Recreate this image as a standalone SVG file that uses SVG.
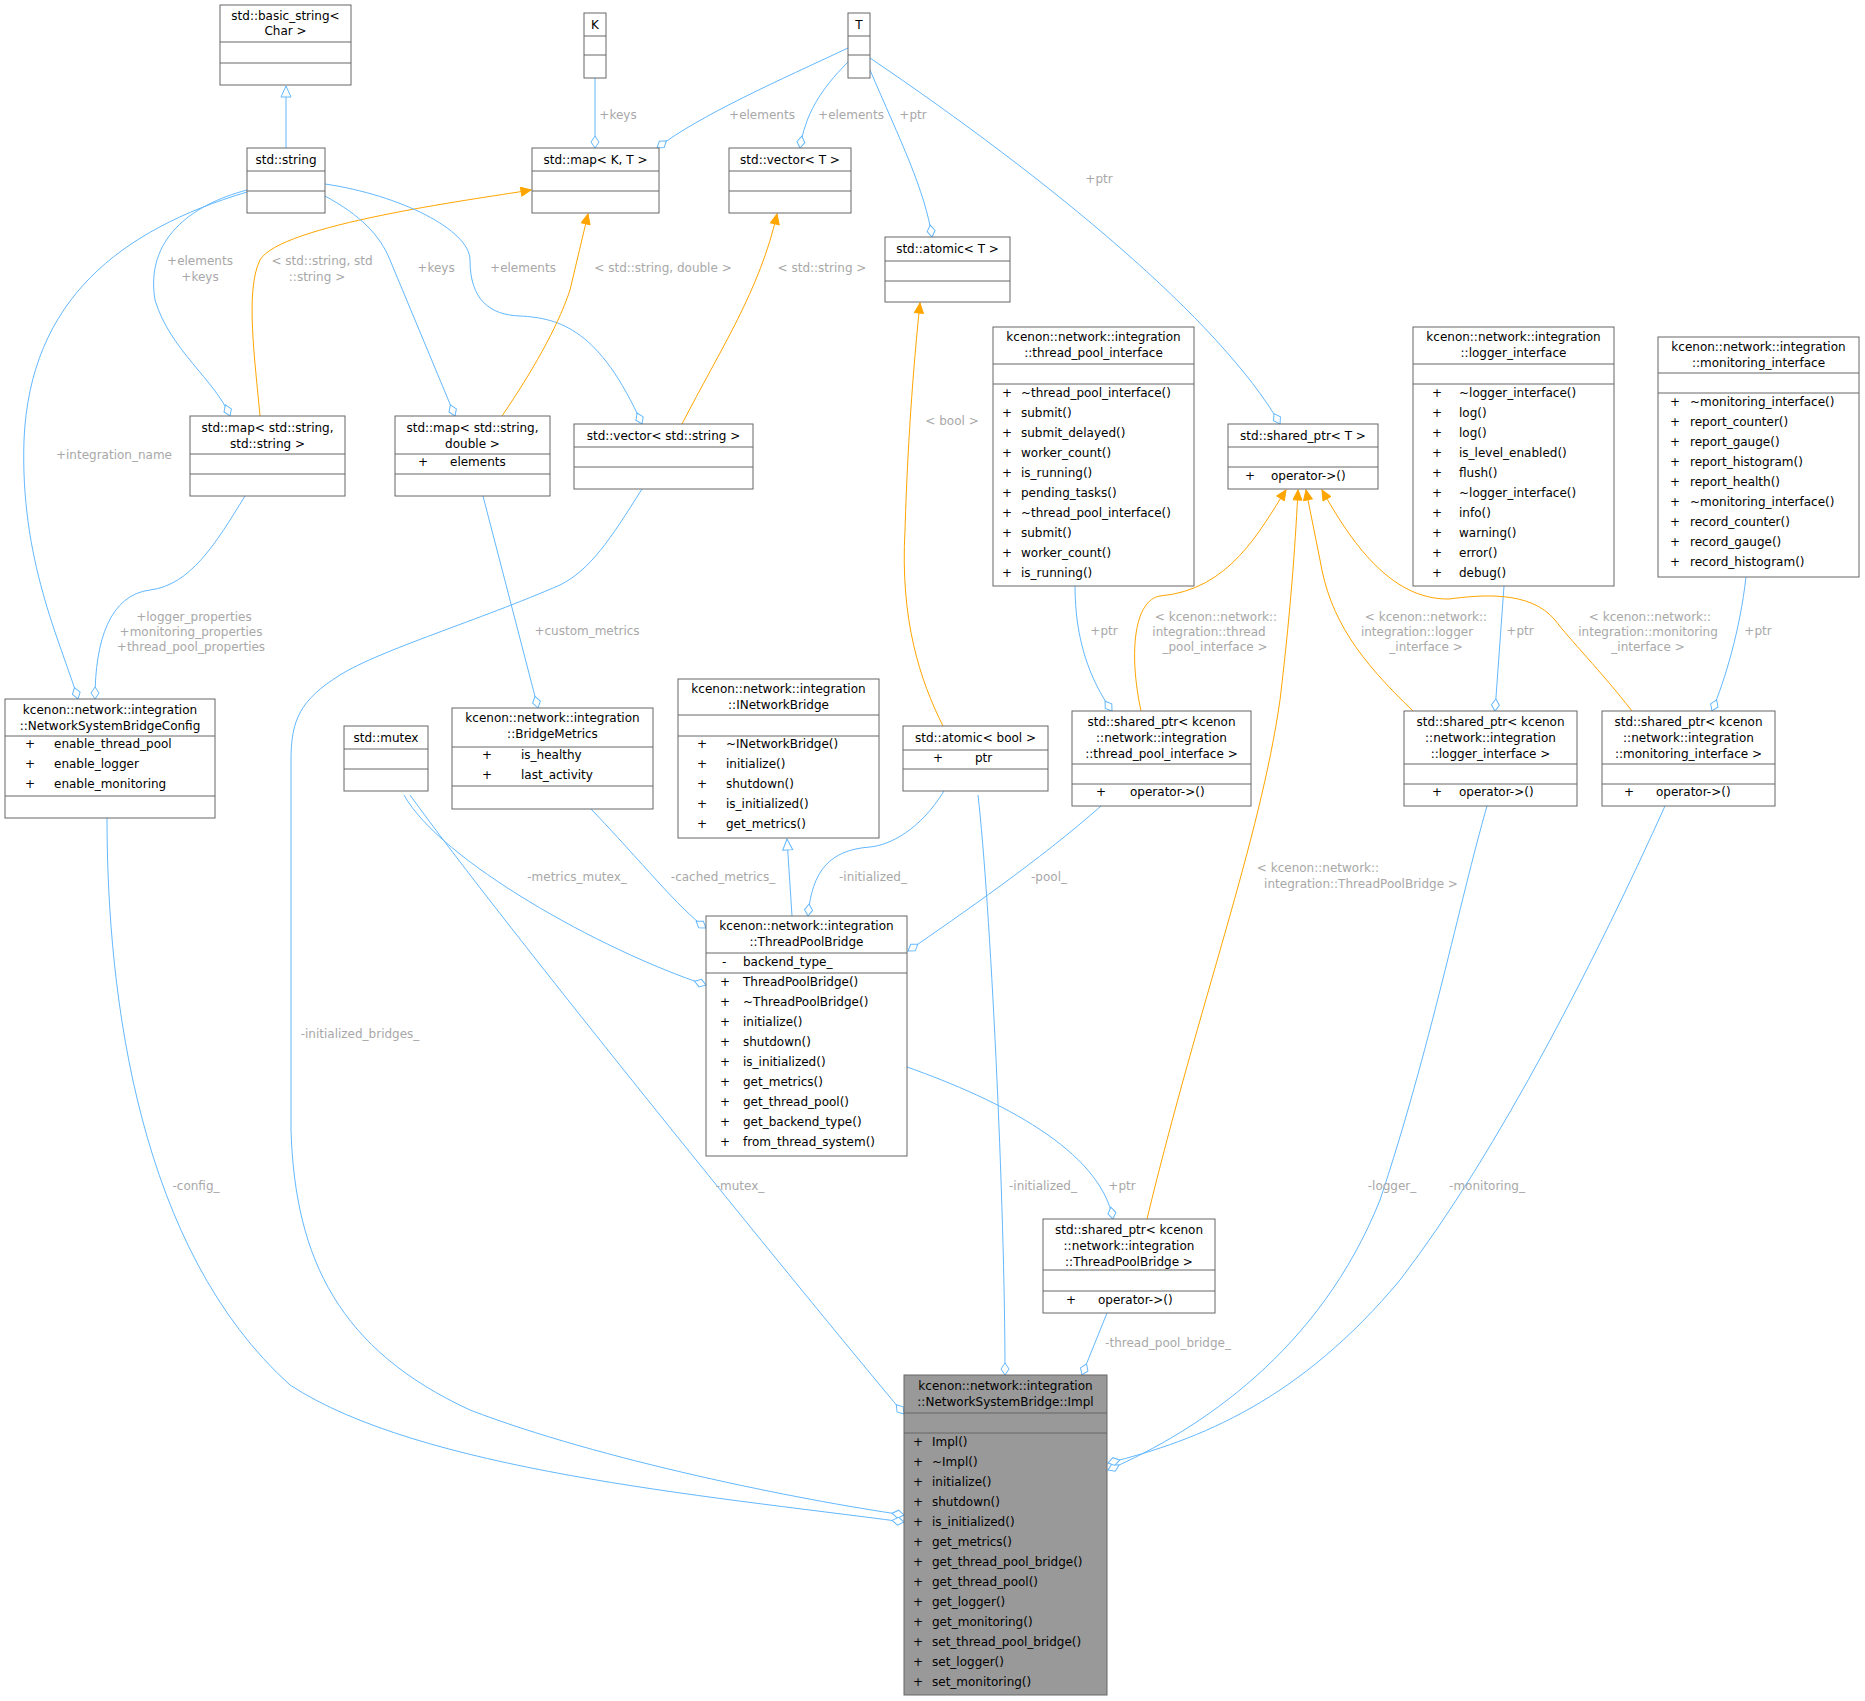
<svg xmlns="http://www.w3.org/2000/svg" width="1865" height="1701" viewBox="0 0 1865 1701">
<style>
text{font-family:"DejaVu Sans","Liberation Sans",sans-serif;font-size:12px;fill:#000}
.c{text-anchor:middle}
.l{fill:#a8a8a8;text-anchor:middle}
rect{fill:#fff;stroke:#666;stroke-width:1}
.imp rect{fill:#999}
line.s{stroke:#666;stroke-width:1}
.e path{fill:none;stroke:#63b8ff;stroke-width:1}
.e path.o{stroke:#ffa500}
</style>
<defs>
<marker id="dm" viewBox="-1 -5 14 10" refX="12" refY="0" markerWidth="14" markerHeight="10" markerUnits="userSpaceOnUse" orient="auto"><path d="M0,0 L6,-4 L12,0 L6,4 Z" fill="#fff" stroke="#63b8ff"/></marker>
<marker id="ar" viewBox="-1 -5 12 10" refX="10" refY="0" markerWidth="12" markerHeight="10" markerUnits="userSpaceOnUse" orient="auto"><path d="M0,-4.5 L10,0 L0,4.5 Z" fill="#ffa500" stroke="#ffa500"/></marker>
<marker id="ih" viewBox="-1 -6 13 12" refX="11" refY="0" markerWidth="13" markerHeight="12" markerUnits="userSpaceOnUse" orient="auto"><path d="M0,-5 L11,0 L0,5 Z" fill="#fff" stroke="#63b8ff"/></marker>
</defs>
<g class="e" id="edges">
<path d="M286,148 L286,86" marker-end="url(#ih)"/>
<path d="M595,78 L595,148" marker-end="url(#dm)"/>
<path d="M848,48 C780,80 700,115 657,148" marker-end="url(#dm)"/>
<path d="M848,62 C820,90 805,115 800,148" marker-end="url(#dm)"/>
<path d="M870,70 C900,140 925,190 932,237" marker-end="url(#dm)"/>
<path d="M870,58 C1050,180 1220,320 1280,424" marker-end="url(#dm)"/>
<path d="M247,190 C190,205 145,240 155,300 C170,350 215,380 230,416" marker-end="url(#dm)"/>
<path d="M247,192 C120,230 30,300 24,440 C20,560 60,640 78,699" marker-end="url(#dm)"/>
<path class="o" d="M260,416 C255,360 245,290 260,260 C280,225 470,200 531,190" marker-end="url(#ar)"/>
<path d="M325,196 C360,215 380,235 390,260 L455,416" marker-end="url(#dm)"/>
<path d="M325,184 C400,195 470,230 470,260 C470,300 490,315 520,316 C560,318 600,330 642,424" marker-end="url(#dm)"/>
<path class="o" d="M502,416 C540,360 560,320 570,290 L588,214" marker-end="url(#ar)"/>
<path class="o" d="M682,424 C720,350 760,290 777,214" marker-end="url(#ar)"/>
<path class="o" d="M943,726 C920,680 900,620 905,530 C908,430 915,350 920,303" marker-end="url(#ar)"/>
<path d="M1075,586 C1075,640 1090,680 1112,711" marker-end="url(#dm)"/>
<path d="M1504,586 L1495,711" marker-end="url(#dm)"/>
<path d="M1746,577 C1740,630 1725,680 1712,711" marker-end="url(#dm)"/>
<path class="o" d="M1141,711 C1128,650 1135,600 1160,596 C1230,590 1260,530 1286,490" marker-end="url(#ar)"/>
<path class="o" d="M1413,711 C1360,660 1330,620 1320,560 L1306,490" marker-end="url(#ar)"/>
<path class="o" d="M1632,711 C1600,670 1570,640 1555,620 C1530,590 1480,595 1449,599 C1390,600 1350,540 1322,490" marker-end="url(#ar)"/>
<path class="o" d="M1147,1219 C1200,1000 1260,840 1280,700 C1292,600 1296,530 1298,490" marker-end="url(#ar)"/>
<path d="M245,496 C215,545 190,585 150,590 C110,595 95,640 95,699" marker-end="url(#dm)"/>
<path d="M483,496 L538,708" marker-end="url(#dm)"/>
<path d="M642,489 C610,540 590,570 560,585 C480,620 380,650 340,675 C300,700 291,720 291,760 L291,1130 C295,1260 340,1350 470,1410 C600,1460 800,1500 904,1515" marker-end="url(#dm)"/>
<path d="M107,818 C107,1000 140,1250 290,1385 C420,1470 700,1495 904,1522" marker-end="url(#dm)"/>
<path d="M404,795 C440,860 600,950 706,985" marker-end="url(#dm)"/>
<path d="M410,795 C500,920 800,1290 904,1414" marker-end="url(#dm)"/>
<path d="M591,809 C640,860 680,910 706,928" marker-end="url(#dm)"/>
<path d="M792,916 L787,839" marker-end="url(#ih)"/>
<path d="M944,791 C920,830 890,845 870,847 C830,850 812,870 808,916" marker-end="url(#dm)"/>
<path d="M1101,806 C1040,860 960,915 908,951" marker-end="url(#dm)"/>
<path d="M978,795 C990,900 1005,1200 1005,1375" marker-end="url(#dm)"/>
<path d="M907,1067 C1000,1100 1100,1150 1113,1219" marker-end="url(#dm)"/>
<path d="M1107,1313 L1082,1375" marker-end="url(#dm)"/>
<path d="M1487,806 C1460,900 1430,1050 1380,1200 C1320,1350 1200,1430 1108,1470" marker-end="url(#dm)"/>
<path d="M1665,806 C1600,950 1500,1150 1400,1280 C1300,1400 1200,1440 1108,1463" marker-end="url(#dm)"/>
<text class="l" x="618" y="119">+keys</text>
<text class="l" x="762" y="119">+elements</text>
<text class="l" x="851" y="119">+elements</text>
<text class="l" x="913" y="119">+ptr</text>
<text class="l" x="1099" y="183">+ptr</text>
<text class="l" x="200" y="265">+elements</text>
<text class="l" x="200" y="281">+keys</text>
<text class="l" x="114" y="459">+integration_name</text>
<text class="l" x="322" y="265">&lt; std::string, std</text>
<text class="l" x="317" y="281">::string &gt;</text>
<text class="l" x="436" y="272">+keys</text>
<text class="l" x="523" y="272">+elements</text>
<text class="l" x="663" y="272">&lt; std::string, double &gt;</text>
<text class="l" x="822" y="272">&lt; std::string &gt;</text>
<text class="l" x="952" y="425">&lt; bool &gt;</text>
<text class="l" x="1104" y="635">+ptr</text>
<text class="l" x="1520" y="635">+ptr</text>
<text class="l" x="1758" y="635">+ptr</text>
<text class="l" x="1216" y="621">&lt; kcenon::network::</text>
<text class="l" x="1209" y="636">integration::thread</text>
<text class="l" x="1215" y="651">_pool_interface &gt;</text>
<text class="l" x="1426" y="621">&lt; kcenon::network::</text>
<text class="l" x="1417" y="636">integration::logger</text>
<text class="l" x="1426" y="651">_interface &gt;</text>
<text class="l" x="1650" y="621">&lt; kcenon::network::</text>
<text class="l" x="1648" y="636">integration::monitoring</text>
<text class="l" x="1648" y="651">_interface &gt;</text>
<text class="l" x="194" y="621">+logger_properties</text>
<text class="l" x="191" y="636">+monitoring_properties</text>
<text class="l" x="191" y="651">+thread_pool_properties</text>
<text class="l" x="587" y="635">+custom_metrics</text>
<text class="l" x="1318" y="872">&lt; kcenon::network::</text>
<text class="l" x="1361" y="888">integration::ThreadPoolBridge &gt;</text>
<text class="l" x="360" y="1038">-initialized_bridges_</text>
<text class="l" x="196" y="1190">-config_</text>
<text class="l" x="577" y="881">-metrics_mutex_</text>
<text class="l" x="740" y="1190">-mutex_</text>
<text class="l" x="723" y="881">-cached_metrics_</text>
<text class="l" x="873" y="881">-initialized_</text>
<text class="l" x="1049" y="881">-pool_</text>
<text class="l" x="1043" y="1190">-initialized_</text>
<text class="l" x="1122" y="1190">+ptr</text>
<text class="l" x="1168" y="1347">-thread_pool_bridge_</text>
<text class="l" x="1392" y="1190">-logger_</text>
<text class="l" x="1487" y="1190">-monitoring_</text>
</g>
<g id="n_basic"><rect x="220" y="5" width="131" height="80"/><line class="s" x1="220" y1="42" x2="351" y2="42"/><line class="s" x1="220" y1="63" x2="351" y2="63"/><text class="c" x="285.5" y="20">std::basic_string&lt;</text><text class="c" x="285.5" y="35">Char &gt;</text></g>
<g id="n_K"><rect x="584" y="13" width="22" height="65"/><line class="s" x1="584" y1="36" x2="606" y2="36"/><line class="s" x1="584" y1="55" x2="606" y2="55"/><text class="c" x="595" y="29">K</text></g>
<g id="n_T"><rect x="848" y="13" width="22" height="65"/><line class="s" x1="848" y1="36" x2="870" y2="36"/><line class="s" x1="848" y1="55" x2="870" y2="55"/><text class="c" x="859" y="29">T</text></g>
<g id="n_string"><rect x="247" y="148" width="78" height="65"/><line class="s" x1="247" y1="171" x2="325" y2="171"/><line class="s" x1="247" y1="191" x2="325" y2="191"/><text class="c" x="286" y="164">std::string</text></g>
<g id="n_mapKT"><rect x="532" y="148" width="127" height="65"/><line class="s" x1="532" y1="171" x2="659" y2="171"/><line class="s" x1="532" y1="191" x2="659" y2="191"/><text class="c" x="595.5" y="164">std::map&lt; K, T &gt;</text></g>
<g id="n_vecT"><rect x="729" y="148" width="122" height="65"/><line class="s" x1="729" y1="171" x2="851" y2="171"/><line class="s" x1="729" y1="191" x2="851" y2="191"/><text class="c" x="790" y="164">std::vector&lt; T &gt;</text></g>
<g id="n_atomT"><rect x="885" y="237" width="125" height="65"/><line class="s" x1="885" y1="261" x2="1010" y2="261"/><line class="s" x1="885" y1="281" x2="1010" y2="281"/><text class="c" x="947.5" y="253">std::atomic&lt; T &gt;</text></g>
<g id="n_mapss"><rect x="190" y="416" width="155" height="80"/><line class="s" x1="190" y1="454" x2="345" y2="454"/><line class="s" x1="190" y1="474" x2="345" y2="474"/><text class="c" x="267.5" y="432">std::map&lt; std::string,</text><text class="c" x="267.5" y="448">std::string &gt;</text></g>
<g id="n_mapsd"><rect x="395" y="416" width="155" height="80"/><line class="s" x1="395" y1="454" x2="550" y2="454"/><line class="s" x1="395" y1="474" x2="550" y2="474"/><text class="c" x="472.5" y="432">std::map&lt; std::string,</text><text class="c" x="472.5" y="448">double &gt;</text><text x="418" y="466">+</text><text x="450" y="466">elements</text></g>
<g id="n_vecs"><rect x="574" y="424" width="179" height="65"/><line class="s" x1="574" y1="447" x2="753" y2="447"/><line class="s" x1="574" y1="467" x2="753" y2="467"/><text class="c" x="663.5" y="440">std::vector&lt; std::string &gt;</text></g>
<g id="n_config"><rect x="5" y="699" width="210" height="119"/><line class="s" x1="5" y1="736" x2="215" y2="736"/><line class="s" x1="5" y1="796" x2="215" y2="796"/><text class="c" x="110" y="714">kcenon::network::integration</text><text class="c" x="110" y="730">::NetworkSystemBridgeConfig</text><text x="25" y="748">+</text><text x="54" y="748">enable_thread_pool</text><text x="25" y="768">+</text><text x="54" y="768">enable_logger</text><text x="25" y="788">+</text><text x="54" y="788">enable_monitoring</text></g>
<g id="n_mutex"><rect x="344" y="726" width="84" height="65"/><line class="s" x1="344" y1="749" x2="428" y2="749"/><line class="s" x1="344" y1="769" x2="428" y2="769"/><text class="c" x="386" y="742">std::mutex</text></g>
<g id="n_metrics"><rect x="452" y="708" width="201" height="101"/><line class="s" x1="452" y1="747" x2="653" y2="747"/><line class="s" x1="452" y1="786" x2="653" y2="786"/><text class="c" x="552.5" y="722">kcenon::network::integration</text><text class="c" x="552.5" y="738">::BridgeMetrics</text><text x="482" y="759">+</text><text x="521" y="759">is_healthy</text><text x="482" y="779">+</text><text x="521" y="779">last_activity</text></g>
<g id="n_inb"><rect x="678" y="679" width="201" height="159"/><line class="s" x1="678" y1="715" x2="879" y2="715"/><line class="s" x1="678" y1="736" x2="879" y2="736"/><text class="c" x="778.5" y="693">kcenon::network::integration</text><text class="c" x="778.5" y="709">::INetworkBridge</text><text x="697" y="748">+</text><text x="726" y="748">~INetworkBridge()</text><text x="697" y="768">+</text><text x="726" y="768">initialize()</text><text x="697" y="788">+</text><text x="726" y="788">shutdown()</text><text x="697" y="808">+</text><text x="726" y="808">is_initialized()</text><text x="697" y="828">+</text><text x="726" y="828">get_metrics()</text></g>
<g id="n_atomb"><rect x="903" y="726" width="145" height="65"/><line class="s" x1="903" y1="750" x2="1048" y2="750"/><line class="s" x1="903" y1="769" x2="1048" y2="769"/><text class="c" x="975.5" y="742">std::atomic&lt; bool &gt;</text><text x="933" y="762">+</text><text x="975" y="762">ptr</text></g>
<g id="n_tpi"><rect x="993" y="327" width="201" height="259"/><line class="s" x1="993" y1="364" x2="1194" y2="364"/><line class="s" x1="993" y1="384" x2="1194" y2="384"/><text class="c" x="1093.5" y="341">kcenon::network::integration</text><text class="c" x="1093.5" y="357">::thread_pool_interface</text>
<text x="1002" y="397">+</text><text x="1021" y="397">~thread_pool_interface()</text>
<text x="1002" y="417">+</text><text x="1021" y="417">submit()</text>
<text x="1002" y="437">+</text><text x="1021" y="437">submit_delayed()</text>
<text x="1002" y="457">+</text><text x="1021" y="457">worker_count()</text>
<text x="1002" y="477">+</text><text x="1021" y="477">is_running()</text>
<text x="1002" y="497">+</text><text x="1021" y="497">pending_tasks()</text>
<text x="1002" y="517">+</text><text x="1021" y="517">~thread_pool_interface()</text>
<text x="1002" y="537">+</text><text x="1021" y="537">submit()</text>
<text x="1002" y="557">+</text><text x="1021" y="557">worker_count()</text>
<text x="1002" y="577">+</text><text x="1021" y="577">is_running()</text></g>
<g id="n_spT"><rect x="1228" y="424" width="150" height="65"/><line class="s" x1="1228" y1="447" x2="1378" y2="447"/><line class="s" x1="1228" y1="467" x2="1378" y2="467"/><text class="c" x="1303" y="440">std::shared_ptr&lt; T &gt;</text><text x="1245" y="480">+</text><text x="1271" y="480">operator-&gt;()</text></g>
<g id="n_logi"><rect x="1413" y="327" width="201" height="259"/><line class="s" x1="1413" y1="364" x2="1614" y2="364"/><line class="s" x1="1413" y1="384" x2="1614" y2="384"/><text class="c" x="1513.5" y="341">kcenon::network::integration</text><text class="c" x="1513.5" y="357">::logger_interface</text>
<text x="1432" y="397">+</text><text x="1459" y="397">~logger_interface()</text>
<text x="1432" y="417">+</text><text x="1459" y="417">log()</text>
<text x="1432" y="437">+</text><text x="1459" y="437">log()</text>
<text x="1432" y="457">+</text><text x="1459" y="457">is_level_enabled()</text>
<text x="1432" y="477">+</text><text x="1459" y="477">flush()</text>
<text x="1432" y="497">+</text><text x="1459" y="497">~logger_interface()</text>
<text x="1432" y="517">+</text><text x="1459" y="517">info()</text>
<text x="1432" y="537">+</text><text x="1459" y="537">warning()</text>
<text x="1432" y="557">+</text><text x="1459" y="557">error()</text>
<text x="1432" y="577">+</text><text x="1459" y="577">debug()</text></g>
<g id="n_moni"><rect x="1658" y="337" width="201" height="240"/><line class="s" x1="1658" y1="373" x2="1859" y2="373"/><line class="s" x1="1658" y1="393" x2="1859" y2="393"/><text class="c" x="1758.5" y="351">kcenon::network::integration</text><text class="c" x="1758.5" y="367">::monitoring_interface</text>
<text x="1670" y="406">+</text><text x="1690" y="406">~monitoring_interface()</text>
<text x="1670" y="426">+</text><text x="1690" y="426">report_counter()</text>
<text x="1670" y="446">+</text><text x="1690" y="446">report_gauge()</text>
<text x="1670" y="466">+</text><text x="1690" y="466">report_histogram()</text>
<text x="1670" y="486">+</text><text x="1690" y="486">report_health()</text>
<text x="1670" y="506">+</text><text x="1690" y="506">~monitoring_interface()</text>
<text x="1670" y="526">+</text><text x="1690" y="526">record_counter()</text>
<text x="1670" y="546">+</text><text x="1690" y="546">record_gauge()</text>
<text x="1670" y="566">+</text><text x="1690" y="566">record_histogram()</text></g>
<g id="n_sptpi"><rect x="1072" y="711" width="179" height="95"/><line class="s" x1="1072" y1="764" x2="1251" y2="764"/><line class="s" x1="1072" y1="784" x2="1251" y2="784"/><text class="c" x="1161.5" y="726">std::shared_ptr&lt; kcenon</text><text class="c" x="1161.5" y="742">::network::integration</text><text class="c" x="1161.5" y="758">::thread_pool_interface &gt;</text><text x="1096" y="796">+</text><text x="1130" y="796">operator-&gt;()</text></g>
<g id="n_splog"><rect x="1404" y="711" width="173" height="95"/><line class="s" x1="1404" y1="764" x2="1577" y2="764"/><line class="s" x1="1404" y1="784" x2="1577" y2="784"/><text class="c" x="1490.5" y="726">std::shared_ptr&lt; kcenon</text><text class="c" x="1490.5" y="742">::network::integration</text><text class="c" x="1490.5" y="758">::logger_interface &gt;</text><text x="1432" y="796">+</text><text x="1459" y="796">operator-&gt;()</text></g>
<g id="n_spmon"><rect x="1602" y="711" width="173" height="95"/><line class="s" x1="1602" y1="764" x2="1775" y2="764"/><line class="s" x1="1602" y1="784" x2="1775" y2="784"/><text class="c" x="1688.5" y="726">std::shared_ptr&lt; kcenon</text><text class="c" x="1688.5" y="742">::network::integration</text><text class="c" x="1688.5" y="758">::monitoring_interface &gt;</text><text x="1624" y="796">+</text><text x="1656" y="796">operator-&gt;()</text></g>
<g id="n_tpb"><rect x="706" y="916" width="201" height="240"/><line class="s" x1="706" y1="953" x2="907" y2="953"/><line class="s" x1="706" y1="973" x2="907" y2="973"/><text class="c" x="806.5" y="930">kcenon::network::integration</text><text class="c" x="806.5" y="946">::ThreadPoolBridge</text>
<text x="722" y="966">-</text><text x="743" y="966">backend_type_</text>
<text x="720" y="986">+</text><text x="743" y="986">ThreadPoolBridge()</text>
<text x="720" y="1006">+</text><text x="743" y="1006">~ThreadPoolBridge()</text>
<text x="720" y="1026">+</text><text x="743" y="1026">initialize()</text>
<text x="720" y="1046">+</text><text x="743" y="1046">shutdown()</text>
<text x="720" y="1066">+</text><text x="743" y="1066">is_initialized()</text>
<text x="720" y="1086">+</text><text x="743" y="1086">get_metrics()</text>
<text x="720" y="1106">+</text><text x="743" y="1106">get_thread_pool()</text>
<text x="720" y="1126">+</text><text x="743" y="1126">get_backend_type()</text>
<text x="720" y="1146">+</text><text x="743" y="1146">from_thread_system()</text></g>
<g id="n_sptpb"><rect x="1043" y="1219" width="172" height="94"/><line class="s" x1="1043" y1="1270" x2="1215" y2="1270"/><line class="s" x1="1043" y1="1291" x2="1215" y2="1291"/><text class="c" x="1129" y="1234">std::shared_ptr&lt; kcenon</text><text class="c" x="1129" y="1250">::network::integration</text><text class="c" x="1129" y="1266">::ThreadPoolBridge &gt;</text><text x="1066" y="1304">+</text><text x="1098" y="1304">operator-&gt;()</text></g>
<g id="n_impl" class="imp"><rect x="904" y="1375" width="203" height="320"/><line class="s" x1="904" y1="1413" x2="1107" y2="1413"/><line class="s" x1="904" y1="1433" x2="1107" y2="1433"/><text class="c" x="1005.5" y="1390">kcenon::network::integration</text><text class="c" x="1005.5" y="1406">::NetworkSystemBridge::Impl</text>
<text x="913" y="1446">+</text><text x="932" y="1446">Impl()</text>
<text x="913" y="1466">+</text><text x="932" y="1466">~Impl()</text>
<text x="913" y="1486">+</text><text x="932" y="1486">initialize()</text>
<text x="913" y="1506">+</text><text x="932" y="1506">shutdown()</text>
<text x="913" y="1526">+</text><text x="932" y="1526">is_initialized()</text>
<text x="913" y="1546">+</text><text x="932" y="1546">get_metrics()</text>
<text x="913" y="1566">+</text><text x="932" y="1566">get_thread_pool_bridge()</text>
<text x="913" y="1586">+</text><text x="932" y="1586">get_thread_pool()</text>
<text x="913" y="1606">+</text><text x="932" y="1606">get_logger()</text>
<text x="913" y="1626">+</text><text x="932" y="1626">get_monitoring()</text>
<text x="913" y="1646">+</text><text x="932" y="1646">set_thread_pool_bridge()</text>
<text x="913" y="1666">+</text><text x="932" y="1666">set_logger()</text>
<text x="913" y="1686">+</text><text x="932" y="1686">set_monitoring()</text></g>
</svg>
